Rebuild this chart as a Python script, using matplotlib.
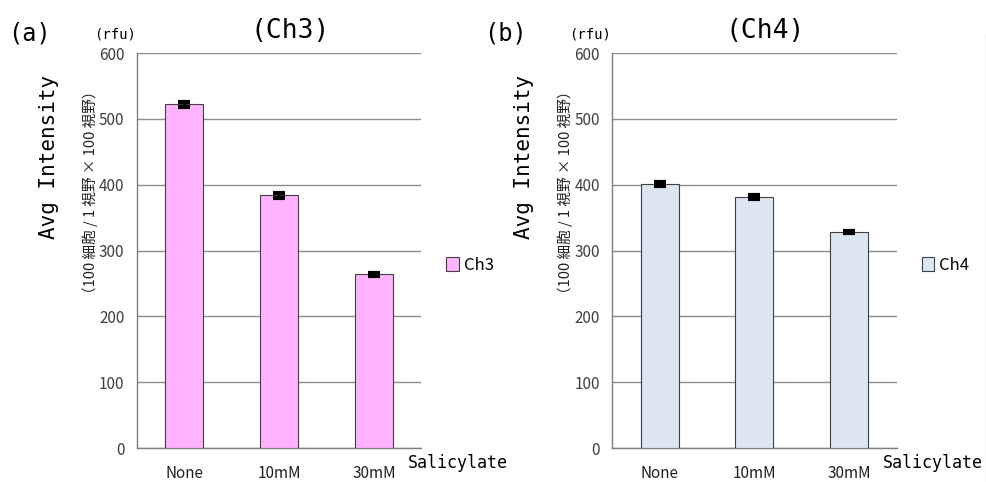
import numpy as np
import matplotlib
matplotlib.use("Agg")
import matplotlib.pyplot as plt
from matplotlib.lines import Line2D

plt.rcParams['font.family'] = ['Liberation Sans Narrow', 'Noto Sans CJK JP', 'DejaVu Sans']

categories = ["None", "10mM", "30mM"]
ch3_values = [522, 384, 264]
ch3_err = [4, 4, 2]
ch4_values = [401, 382, 328]
ch4_err = [3, 3, 2]
yticks = [0, 100, 200, 300, 400, 500, 600]

panels = [
    ("(a)", "(Ch3)", "Ch3", ch3_values, ch3_err, "#FFB3FF", 0.1389),
    ("(b)", "(Ch4)", "Ch4", ch4_values, ch4_err, "#DCE6F2", 0.6210),
]

fig = plt.figure(figsize=(9.86, 4.82), dpi=100)
W, H = 986.0, 482.0
mono = "DejaVu Sans Mono"
cjk = ["Noto Sans CJK JP", "DejaVu Sans"]

for tag, title, name, vals, errs, col, left in panels:
    ax = fig.add_axes([left, 0.0705, 0.2883, 0.8195])
    x = np.arange(len(categories))
    bars = ax.bar(x, vals, width=0.4, color=col, edgecolor="#404040",
                  linewidth=0.8, zorder=3, label=name)
    ax.errorbar(x, vals, yerr=errs, fmt="none", ecolor="black", elinewidth=2,
                capsize=4.5, capthick=3, zorder=4)
    ax.set_xlim(-0.5, 2.5)
    ax.set_ylim(0, 600)
    ax.set_yticks(yticks)
    ax.set_xticks(x)
    ax.set_xticklabels(categories)
    ax.yaxis.grid(True, color="#8c8c8c", linewidth=1, zorder=0)
    ax.set_axisbelow(True)
    for s in ["top", "right"]:
        ax.spines[s].set_visible(False)
    for s in ["left", "bottom"]:
        ax.spines[s].set_color("#7f7f7f")
        ax.spines[s].set_linewidth(1)
    ax.tick_params(axis="both", length=0, labelsize=11, labelcolor="#404040")
    ax.tick_params(axis="y", pad=9)
    ax.tick_params(axis="x", pad=12.5, labelcolor="#202020")

    # legend to the right of the plot
    px = left * W
    leg_x = (px + 301) / W
    ax.legend(handles=[bars], loc="center left", bbox_to_anchor=(leg_x, 1 - 265 / H),
              bbox_transform=fig.transFigure, frameon=False, fontsize=12,
              handlelength=0.75, handleheight=0.9, handletextpad=0.3, borderpad=0)

    fig.text((px - 107) / W, 1 - 33 / H, tag, fontsize=17, family=mono,
             ha="center", va="center")
    fig.text((px + 153) / W, 1 - 31 / H, title, fontsize=19, family=mono,
             ha="center", va="center")
    fig.text((px - 22) / W, 1 - 35 / H, "(rfu)", fontsize=10, family=mono,
             ha="center", va="center")
    fig.text((px - 88) / W, 1 - 157 / H, "Avg Intensity", fontsize=15, family=mono,
             rotation=90, ha="center", va="center")
    fig.text((px - 47) / W, 1 - 192 / H, "（100 細胞 / 1 視野 × 100 視野）", fontsize=10.5,
             family=cjk, rotation=90, ha="center", va="center", color="#202020")
    fig.text((px + 271) / W, 1 - 463 / H, "Salicylate", fontsize=12, family=mono,
             ha="left", va="center")

fig.add_artist(Line2D([985.5 / W, 985.5 / W], [0, 1 - 33 / H], color="#c8c8c8",
                      linewidth=1, transform=fig.transFigure))

fig.savefig("out.png", dpi=100)
